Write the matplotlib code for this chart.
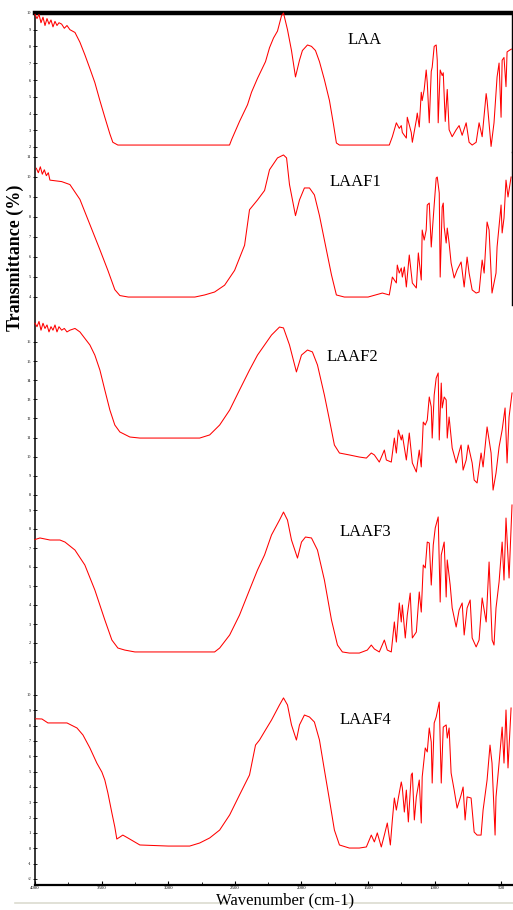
import numpy as np
import matplotlib
matplotlib.use("Agg")
import matplotlib.pyplot as plt
from matplotlib.lines import Line2D

# FTIR spectra, wavenumber (cm-1) vs relative transmittance within each strip
wn1 = [4000, 3985, 3970, 3955, 3940, 3925, 3910, 3895, 3880, 3865,
       3850, 3835, 3820, 3800, 3780, 3760, 3738, 3700, 3663, 3626,
       3588, 3551, 3513, 3476, 3438, 3416, 3378, 3300, 3000, 2700,
       2540, 2524, 2465, 2405, 2375, 2330, 2300, 2270, 2240, 2210,
       2180, 2150, 2135, 2105, 2075, 2045, 2015, 1993, 1955, 1925,
       1895, 1865, 1828, 1790, 1760, 1738, 1715, 1500, 1378, 1341,
       1318, 1288, 1266, 1251, 1243, 1213, 1206, 1176, 1168, 1138,
       1131, 1116, 1101, 1094, 1079, 1064, 1056, 1041, 1026, 1019,
       1004, 989, 981, 974, 959, 944, 936, 921, 906, 892,
       869, 839, 817, 794, 764, 742, 719, 689, 667, 644,
       614, 607, 577, 555, 532, 517, 502, 494, 480, 465,
       457, 442, 425]
t1 = [99, 96, 99, 93, 97, 91, 96, 92, 95, 90,
      94, 91, 93, 92, 89, 91, 88, 86, 79, 70,
      60, 50, 37, 25, 13, 7, 5, 5, 5, 5,
      5, 9, 22, 34, 43, 53, 59, 65, 75, 82,
      87, 98, 100, 88, 73, 54, 66, 73, 77, 76,
      73, 65, 52, 37, 20, 6.5, 5, 5, 5, 5,
      11, 21, 17, 19, 14, 10, 25, 14, 7, 23,
      28, 18, 43, 37, 45, 59, 50, 21, 58, 61,
      76, 77, 66, 21, 59, 55, 57, 22, 45, 16,
      11, 16, 19, 12, 21, 7, 5, 7, 21, 11,
      42, 37, 4, 21, 54, 64, 25, 66, 68, 47,
      72, 73, 74]

wn2 = [3990, 3975, 3960, 3945, 3930, 3915, 3900, 3888, 3800, 3738,
       3663, 3588, 3513, 3453, 3401, 3363, 3300, 3000, 2800, 2727,
       2652, 2577, 2502, 2427, 2390, 2330, 2277, 2240, 2180, 2135,
       2112, 2090, 2045, 2015, 1978, 1940, 1903, 1865, 1828, 1775,
       1738, 1678, 1500, 1393, 1341, 1318, 1288, 1281, 1266, 1251,
       1243, 1228, 1213, 1191, 1168, 1138, 1123, 1101, 1094, 1079,
       1064, 1056, 1041, 1026, 1019, 1004, 989, 981, 966, 959,
       944, 936, 929, 914, 906, 892, 877, 854, 832, 802,
       779, 757, 742, 719, 689, 667, 644, 629, 607, 592,
       570, 540, 532, 502, 494, 480, 465, 450, 427]
t2 = [89, 86, 90, 85, 88, 84, 86, 81, 80, 78,
      68, 51, 34, 20, 7, 3, 2, 2, 2, 3.4,
      5.4, 10, 20, 37, 61, 67.6, 74, 88, 96, 98,
      96, 78, 57, 67.6, 75.7, 75.7, 71, 57, 40.5, 17,
      3.4, 2, 2, 4.7, 3.4, 15.5, 11.5, 23.6, 18.2, 21.6,
      15.5, 22.3, 8.8, 30.4, 11.5, 8.1, 31.8, 13.5, 47.3, 40.5,
      47.3, 64.2, 65.5, 35.8, 45.3, 64.2, 82.4, 83.1, 72.3, 15.5,
      62.8, 65.5, 49.3, 38.5, 48.6, 38.5, 25, 14.9, 20.3, 25.7,
      8.8, 29, 18.2, 6.8, 4.7, 5.4, 27, 18.2, 52.7, 47.3,
      4.7, 18.2, 35.8, 64.2, 45.3, 55.4, 81, 69.6, 83.1]

wn3 = [4000, 3985, 3970, 3955, 3940, 3925, 3910, 3895, 3880, 3865,
       3850, 3835, 3820, 3800, 3780, 3760, 3738, 3700, 3663, 3588,
       3551, 3513, 3476, 3438, 3401, 3363, 3288, 3213, 3000, 2764,
       2689, 2614, 2539, 2465, 2390, 2330, 2277, 2225, 2165, 2135,
       2090, 2038, 2000, 1955, 1918, 1880, 1828, 1790, 1753, 1715,
       1641, 1566, 1513, 1476, 1453, 1416, 1378, 1363, 1326, 1303,
       1288, 1273, 1251, 1243, 1213, 1191, 1168, 1138, 1116, 1101,
       1086, 1071, 1056, 1041, 1026, 1019, 1004, 989, 974, 966,
       951, 944, 929, 914, 906, 892, 869, 839, 817, 802,
       787, 764, 749, 719, 704, 682, 652, 637, 607, 577,
       562, 540, 517, 494, 472, 457, 442, 420]
t3 = [97, 95, 98, 93, 97, 94, 96, 92, 95, 93,
      96, 92, 95, 93, 94, 92, 93, 94, 92, 84.5,
      78.7, 70.1, 58.6, 47.1, 38.5, 34.5, 31.6, 31, 31, 31,
      32.8, 38.5, 47.1, 58.6, 70.1, 78.7, 84.5, 90.2, 94.8, 94.3,
      84.5, 69, 78.7, 81.6, 80.5, 73, 55.7, 41.4, 27, 22.4,
      21.3, 20.1, 19.5, 22.4, 21.3, 17.2, 24.1, 18.4, 17.2, 31,
      22.4, 35.6, 29.9, 32.8, 18.4, 33.9, 16.7, 11.5, 24.1, 14.4,
      40.2, 38.5, 41.4, 54.6, 48.9, 31, 55.7, 65.5, 68.4, 29.9,
      62.6, 48.3, 54.6, 52.9, 31, 43.1, 25.3, 16.7, 23, 27,
      12.6, 18.4, 27, 16.7, 6.9, 5.2, 22.4, 14.4, 37.4, 22.4,
      1.1, 10.9, 25.9, 35.6, 48.3, 16.7, 43.1, 56.9]

wn4 = [4000, 3963, 3888, 3813, 3775, 3700, 3626, 3551, 3476, 3423,
       3378, 3326, 3250, 3000, 2800, 2652, 2614, 2539, 2465, 2390,
       2330, 2277, 2225, 2165, 2135, 2105, 2075, 2030, 2000, 1970,
       1925, 1880, 1828, 1775, 1730, 1693, 1641, 1566, 1506, 1476,
       1453, 1416, 1378, 1356, 1326, 1303, 1288, 1266, 1251, 1243,
       1221, 1206, 1184, 1168, 1138, 1116, 1101, 1086, 1071, 1056,
       1041, 1026, 1011, 996, 974, 959, 951, 929, 914, 906,
       884, 869, 839, 817, 794, 779, 757, 734, 719, 689,
       667, 644, 614, 592, 569, 555, 540, 517, 494, 480,
       465, 442, 420]
t4 = [78, 79, 77.7, 77.7, 76.4, 71.3, 61.8, 45.9, 26.8, 14,
      8.9, 7.6, 6.4, 6.4, 6.4, 6.4, 8.9, 17.2, 29.9, 45.9,
      58.6, 68.2, 80.9, 90.4, 95.5, 90.4, 77.7, 66.2, 76.4, 79.6,
      79, 71.3, 52.2, 26.8, 10.8, 6.4, 5.7, 5.7, 7.6, 10.8,
      8.3, 6.4, 14, 7.6, 6.4, 25.5, 12.7, 37.6, 25.5, 36.3,
      15.3, 29.9, 43.9, 15.3, 19.1, 44.6, 31.8, 61.8, 59.9, 76.4,
      75.8, 49, 74.5, 85.4, 92.4, 38.2, 68.2, 76.4, 41.4, 65,
      49, 34.4, 22.3, 33.1, 37.6, 17.2, 34.4, 39.5, 15.3, 9.6,
      14, 40.8, 25.5, 63.7, 14, 10.8, 34.4, 51, 76.4, 52.2,
      91.7, 53.5, 100]

wn5 = [3995, 3948, 3903, 3828, 3760, 3685, 3640, 3588, 3536, 3498,
       3476, 3453, 3423, 3401, 3386, 3363, 3341, 3303, 3213, 3000,
       2839, 2764, 2689, 2614, 2539, 2465, 2390, 2345, 2315, 2270,
       2225, 2165, 2135, 2105, 2075, 2038, 2015, 1978, 1940, 1903,
       1865, 1828, 1790, 1753, 1715, 1641, 1566, 1513, 1476, 1453,
       1431, 1401, 1378, 1356, 1333, 1318, 1303, 1288, 1273, 1251,
       1243, 1228, 1213, 1198, 1176, 1168, 1153, 1138, 1116, 1101,
       1094, 1071, 1056, 1041, 1026, 1019, 1004, 989, 966, 951,
       936, 914, 906, 892, 877, 854, 832, 802, 787, 772,
       757, 727, 704, 682, 652, 637, 607, 585, 570, 547,
       540, 517, 494, 480, 465, 450, 427]
t5 = [84, 83.9, 81.7, 81.7, 81.7, 78.9, 75, 67.8, 59.4, 54.4,
      50, 42.8, 31.7, 23.9, 17.2, 18.3, 19.4, 17.8, 13.9, 13.3,
      13.3, 15, 17.8, 22.2, 30.6, 41.7, 52.8, 69.4, 72.2, 77.8,
      83.3, 91.7, 95.6, 91.7, 80.6, 72.2, 80.6, 86.1, 85, 82.2,
      72.2, 55.6, 38.9, 22.2, 13.9, 12.2, 12.2, 12.8, 19.4, 15.6,
      20.6, 12.8, 19.4, 26.1, 13.9, 27.8, 40, 33.3, 40, 48.9,
      45.6, 32.2, 44.4, 26.7, 52.8, 53.9, 27.8, 40.6, 50, 26.1,
      51.7, 67.8, 65.6, 78.9, 71.1, 48.3, 81.7, 85, 93.3, 48.3,
      79.4, 80.6, 73.3, 78.9, 53.9, 44.4, 34.4, 41.7, 46.1, 27.8,
      40.6, 40, 21.1, 19.4, 19.4, 33.3, 50, 69.4, 59.4, 19.4,
      40.6, 59.4, 79.4, 59.4, 88.9, 56.7, 90]

samples = ["LAA", "LAAF1", "LAAF2", "LAAF3", "LAAF4"]
spectra = [(wn1, t1), (wn2, t2), (wn3, t3), (wn4, t4), (wn5, t5)]

x_ticks = [4000, 3500, 3000, 2500, 2000, 1500, 1000, 500]
x_ticklabels = ["4000", "3500", "3000", "2500", "2000", "1500", "1000", "500"]

y_ticklabels = [
    ["10", "9", "8", "7", "6", "5", "4", "3", "2"],
    ["11", "10", "9", "8", "7", "6", "5", "4"],
    ["16", "15", "14", "13", "12", "11", "10", "9", "8"],
    ["9", "8", "7", "6", "5", "4", "3", "2", "1"],
    ["10", "9", "8", "7", "6", "5", "4", "3", "2", "1", "0", "-1", "-2"],
]

W, H = 513, 910
fig = plt.figure(figsize=(W / 100, H / 100), dpi=100)
fig.patch.set_facecolor("white")

left, right = 35, 512
frame_top, frame_bot = 13, 885

def fy(py):
    return 1 - py / H

# outer frame: thick top rule, left spine, wavenumber axis at the bottom
frame = fig.add_axes([left / W, fy(frame_bot), (right - left) / W, (frame_bot - frame_top) / H])
frame.set_xlim(4000, 420)
frame.set_ylim(0, 1)
frame.set_facecolor("none")
frame.spines["right"].set_visible(False)
frame.spines["top"].set_linewidth(3.2)
frame.spines["left"].set_linewidth(1.1)
frame.spines["bottom"].set_linewidth(1.6)
frame.set_yticks([])
frame.set_xticks(x_ticks)
frame.set_xticklabels(x_ticklabels, fontsize=3.5, family="Liberation Serif")
frame.set_xticks(np.arange(4000, 420, -250), minor=True)
frame.tick_params(axis="x", which="major", direction="in", length=3, width=0.8, pad=1)
frame.tick_params(axis="x", which="minor", direction="in", length=2, width=0.6)

# strips: (strip top, strip bottom, curve 100 %, curve 0 %) in pixels
strips = [(13, 152, 13, 152), (152, 305, 152, 300), (305, 495, 318, 492),
          (495, 670, 505, 662), (670, 885, 690, 870)]
label_pos = [(365, 40), (355, 182), (352, 357), (365, 532), (365, 720)]
tick_span = [(13, 147), (157, 297), (342, 495), (510, 662), (695, 879)]

for i, (wn, tr) in enumerate(spectra):
    s_top, s_bot, c_top, c_bot = strips[i]
    ax = fig.add_axes([left / W, fy(s_bot), (right - left) / W, (s_bot - s_top) / H])
    scale = (c_bot - c_top) / 100.0
    ax.set_ylim((c_bot - s_bot) / scale, (c_bot - s_top) / scale)
    ax.set_xlim(4000, 420)
    ax.set_facecolor("none")
    ax.plot(wn, tr, color="red", lw=0.75, clip_on=False)
    for side in ["top", "bottom", "left"]:
        ax.spines[side].set_visible(False)
    if i < 2:
        ax.spines["right"].set_linewidth(1.0)
    else:
        ax.spines["right"].set_visible(False)
    ax.set_xticks([])
    labs = y_ticklabels[i]
    p0, p1 = tick_span[i]
    pys = np.linspace(p0, p1, len(labs))
    ax.set_yticks([(c_bot - p) / scale for p in pys])
    ax.set_yticklabels(labs, fontsize=3.2, family="Liberation Serif")
    ax.tick_params(axis="y", direction="inout", length=2.5, width=0.6, pad=1.5)
    lx, ly = label_pos[i]
    fig.text(lx / W, fy(ly), samples[i], fontsize=12, family="Liberation Serif",
             ha="center", va="center")

fig.text(15 / W, fy(258), "Transmittance (%)", rotation=90, fontsize=13,
         fontweight="bold", family="Liberation Serif", ha="center", va="center")

# rule under the plot with the axis title set into it
fig.add_artist(Line2D([15 / W, 225 / W], [fy(903), fy(903)], color="#dcdcd0", lw=1.2))
fig.add_artist(Line2D([345 / W, 513 / W], [fy(903), fy(903)], color="#dcdcd0", lw=1.2))
fig.text(285 / W, fy(900), "Wavenumber (cm-1)", fontsize=12, family="Liberation Serif",
         ha="center", va="center")

fig.savefig("out.png", dpi=100)
